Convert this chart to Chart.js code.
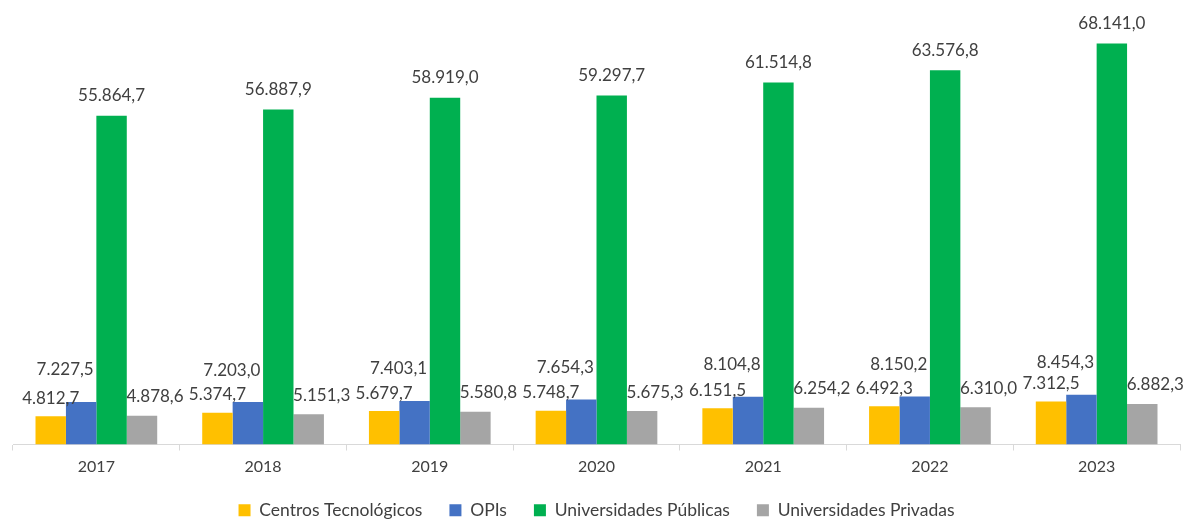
<!DOCTYPE html>
<html>
<head>
<meta charset="utf-8">
<script src="https://cdn.jsdelivr.net/npm/chart.js@4.4.1/dist/chart.umd.min.js"></script>
<style>
  html, body { margin: 0; padding: 0; background: #ffffff; }
  #wrap { width: 1195px; height: 520px; position: relative; }
</style>
</head>
<body>
<div id="wrap"><canvas id="chart"></canvas></div>
<script>
const years = ['2017', '2018', '2019', '2020', '2021', '2022', '2023'];
const seriesNames = ['Centros Tecnológicos', 'OPIs', 'Universidades Públicas', 'Universidades Privadas'];
const centrosTecnologicos = [4812.7, 5374.7, 5679.7, 5748.7, 6151.5, 6492.3, 7312.5];
const opis = [7227.5, 7203.0, 7403.1, 7654.3, 8104.8, 8150.2, 8454.3];
const universidadesPublicas = [55864.7, 56887.9, 58919.0, 59297.7, 61514.8, 63576.8, 68141.0];
const universidadesPrivadas = [4878.6, 5151.3, 5580.8, 5675.3, 6254.2, 6310.0, 6882.3];

const colors = ['#FFC000', '#4472C4', '#00B050', '#A5A5A5'];
const textColor = '#404040';
const fontFamily = 'Lato, "Open Sans", sans-serif';

function formatEs(v) {
  const parts = v.toFixed(1).split('.');
  const intPart = parts[0].replace(/\B(?=(\d{3})+(?!\d))/g, '.');
  return intPart + ',' + parts[1];
}

// labels above the bars, nudged sideways a bit like the original so they do not collide
const valueLabels = {
  id: 'valueLabels',
  afterDatasetsDraw(chart) {
    const ctx = chart.ctx;
    const dx = [0, -16, 0, 13];
    const dy = [18, 32, 20, 19];
    ctx.save();
    ctx.font = '17px ' + fontFamily;
    ctx.fillStyle = textColor;
    ctx.textAlign = 'center';
    ctx.textBaseline = 'middle';
    chart.data.datasets.forEach((ds, i) => {
      const meta = chart.getDatasetMeta(i);
      meta.data.forEach((bar, j) => {
        ctx.fillText(formatEs(ds.data[j]), bar.x + dx[i], bar.y - dy[i]);
      });
    });
    ctx.restore();
  }
};

const data = {
  labels: years,
  datasets: [
    { label: seriesNames[0], data: centrosTecnologicos, backgroundColor: colors[0] },
    { label: seriesNames[1], data: opis, backgroundColor: colors[1] },
    { label: seriesNames[2], data: universidadesPublicas, backgroundColor: colors[2] },
    { label: seriesNames[3], data: universidadesPrivadas, backgroundColor: colors[3] }
  ]
};

new Chart(document.getElementById('chart'), {
  type: 'bar',
  data: data,
  options: {
    responsive: true,
    maintainAspectRatio: false,
    animation: false,
    datasets: {
      bar: {
        categoryPercentage: 0.73,
        barPercentage: 1.0
      }
    },
    layout: {
      padding: { top: 3, left: 13, right: 15, bottom: -9 }
    },
    plugins: {
      legend: {
        position: 'bottom',
        labels: {
          boxWidth: 12,
          boxHeight: 12,
          padding: 27,
          color: textColor,
          font: { size: 17.5, family: fontFamily }
        }
      },
      tooltip: { enabled: false }
    },
    scales: {
      x: {
        // keep the axis band short so the legend sits lower, like the original
        afterFit(scale) {
          scale.height = 30;
        },
        grid: {
          offset: true,
          drawOnChartArea: false,
          drawTicks: true,
          tickLength: 6,
          color: '#D9D9D9'
        },
        border: { display: true, color: '#D9D9D9', width: 1 },
        ticks: {
          color: textColor,
          padding: 7,
          font: { size: 16, family: fontFamily }
        }
      },
      y: {
        display: false,
        beginAtZero: true,
        min: 0,
        max: 75000
      }
    }
  },
  plugins: [valueLabels]
});
</script>
</body>
</html>
